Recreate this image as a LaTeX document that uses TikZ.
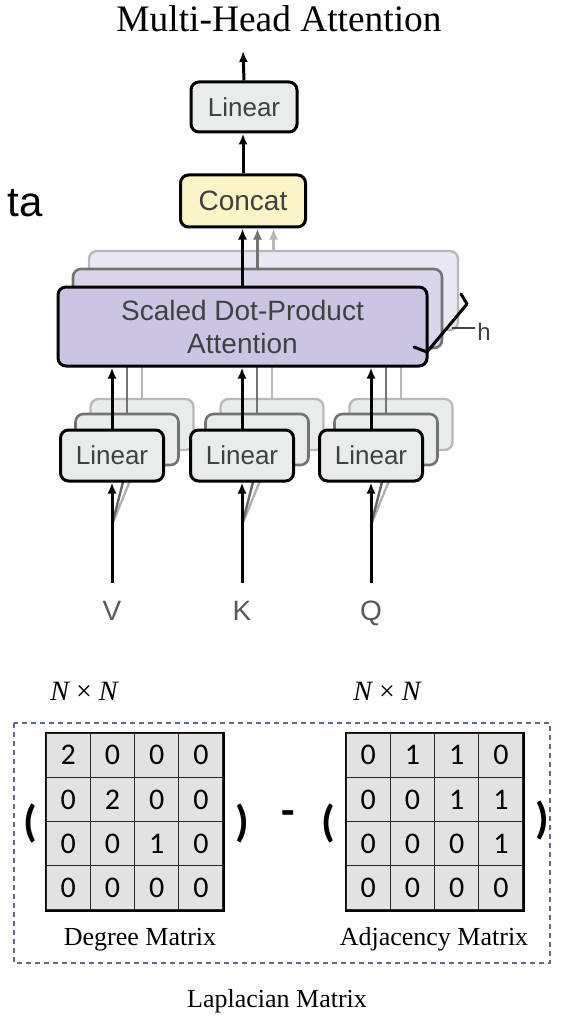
\documentclass[tikz,border=0pt]{standalone}
\usepackage{fontspec}
\setmainfont{Liberation Serif}
\newfontfamily\diagfont{Liberation Sans}
\newfontfamily\cellfont{Carlito}
\usetikzlibrary{arrows.meta, calc}

\definecolor{linfill}{HTML}{E8ECEB}
\definecolor{catfill}{HTML}{FAF4C6}
\definecolor{attfill}{HTML}{CBC5E3}
\definecolor{attfilltwo}{HTML}{DAD5EB}
\definecolor{attfillthree}{HTML}{EAE7F3}
\definecolor{labgray}{HTML}{404040}
\definecolor{dashblue}{HTML}{5B6B8C}
\definecolor{cellfill}{HTML}{E2E2E2}

\begin{document}
\begin{tikzpicture}[x=0.5pt, y=-0.5pt,
    box/.style={draw=black, line width=1.5pt, rounded corners=4pt, inner sep=0pt,
        text=labgray, font={\diagfont\fontsize{13}{15}\selectfont}},
    linbox/.style={box, fill=linfill, minimum width=51.5pt, minimum height=25.5pt},
    topbox/.style={box, fill=linfill, minimum width=53pt, minimum height=25pt},
    catbox/.style={box, fill=catfill, minimum width=62.5pt, minimum height=26pt,
        font={\diagfont\fontsize{14}{16}\selectfont}},
    attbox/.style={box, fill=attfill, minimum width=184.5pt, minimum height=39.5pt,
        align=center, font={\diagfont\fontsize{14}{16.5}\selectfont}},
    ghosttwo/.style={draw=black!55, line width=1.3pt},
    ghostthree/.style={draw=black!28, line width=1.2pt},
    arr/.style={line width=1.5pt, -{Latex[length=5.5pt,width=4.5pt]}},
    ghostline/.style={line width=1.2pt},
    inlabel/.style={font={\diagfont\fontsize{14}{16}\selectfont}, text=black!65, anchor=base},
    cell/.style={draw=black!85, line width=0.6pt, fill=cellfill, minimum size=22.125pt,
        inner sep=0pt, font={\cellfont\fontsize{15}{17}\selectfont}},
    paren/.style={font={\cellfont\bfseries\fontsize{22}{24}\selectfont}},
    sizelabel/.style={font={\itshape\fontsize{14}{16}\selectfont}, anchor=base},
    caption/.style={font={\fontsize{13}{15}\selectfont}, anchor=base}
]
\useasboundingbox (0,0) rectangle (565,1016);

% cropped slide text and title
\node[font={\diagfont\fontsize{21}{24}\selectfont}, anchor=base east, inner sep=0pt] (ta) at (43,217) {ta};
\node[font={\fontsize{18.7}{22}\selectfont}, anchor=base] (title) at (279,32) {Multi-Head Attention};

% stacked attention heads
\node[attbox, fill=attfillthree, ghostthree] (sdpa3) at (273.5,290.5) {};
\node[attbox, fill=attfilltwo, ghosttwo] (sdpa2) at (257.5,308.5) {};

% back copies of the linear layers
\foreach \name/\x in {V/112,K/242,Q/371} {
    \node[linbox, ghostthree] (lin\name3) at ({\x+30},424.5) {};
    \draw[ghostline, black!28] (lin\name3.north) -- (lin\name3.north |- 0,366);
    \node[linbox, ghosttwo] (lin\name2) at ({\x+15},439.5) {};
    \draw[ghostline, black!55] (lin\name2.north) -- (lin\name2.north |- 0,366);
    \coordinate (split\name) at (\x,525);
    \draw[ghostline, black!30] (split\name) -- (lin\name3.south);
    \draw[ghostline, black!60] (split\name) -- (lin\name2.south);
}

\node[attbox] (sdpa) at (242.5,326.5) {Scaled Dot-Product\\Attention};
\node[catbox] (concat) at (243,201) {Concat};
\node[topbox] (lintop) at (244,107) {Linear};
\coordinate (out) at (243,51);

\draw[arr] (lintop.north) -- (out);
\draw[arr] (concat.north) -- (lintop.south -| concat.north);
\draw[arr] (sdpa.north) -- (concat.south -| sdpa.north);
\draw[arr, line width=1.3pt, black!55] (sdpa2.north) -- (sdpa2.north |- concat.south);
\draw[arr, line width=1.2pt, black!28] (sdpa3.north) -- (sdpa3.north |- concat.south);

% h bracket
\draw[line width=1.5pt, line join=round, line cap=round] (461,294) -- (467,304) -- (427,352) -- (414,347);
\node[font={\diagfont\fontsize{12}{14}\selectfont}, text=labgray, anchor=base, inner sep=1pt] (hlabel) at (484,340) {h};
\draw[labgray, line width=0.8pt] (452,328) -- (hlabel.west |- 0,328);

% front linear layers and inputs
\foreach \name/\x in {V/112,K/242,Q/371} {
    \node[linbox] (lin\name) at (\x,455.5) {Linear};
    \node[inlabel] (in\name) at (\x,620) {\name};
    \coordinate (tail\name) at (\x,583);
    \draw[arr] (tail\name) -- (lin\name.south);
    \draw[arr] (lin\name.north) -- (lin\name.north |- sdpa.south);
}

% Laplacian matrix
\draw[dashblue, line width=0.6pt, dash pattern=on 2.5pt off 2pt] (14,723) rectangle (550,963);
\node[sizelabel] (degsize) at (84,700) {N {\upshape\texttimes} N};
\node[sizelabel] (adjsize) at (387,700) {N {\upshape\texttimes} N};

\foreach \row [count=\i from 0] in {{2,0,0,0},{0,2,0,0},{0,0,1,0},{0,0,0,0}} {
    \foreach \v [count=\j from 0] in \row {
        \node[cell] (deg-\i-\j) at ({46+44.25*(\j+0.5)},{733+44.25*(\i+0.5)}) {\v};
    }
}
\foreach \row [count=\i from 0] in {{0,1,1,0},{0,0,1,1},{0,0,0,1},{0,0,0,0}} {
    \foreach \v [count=\j from 0] in \row {
        \node[cell] (adj-\i-\j) at ({346+44.25*(\j+0.5)},{733+44.25*(\i+0.5)}) {\v};
    }
}
\draw[line width=0.9pt] (deg-0-0.north west) rectangle (deg-3-3.south east);
\draw[line width=0.9pt] (adj-0-0.north west) rectangle (adj-3-3.south east);

\node[paren] (degopen) at (30,823) {(};
\node[paren] (degclose) at (242,823) {)};
\node[paren] (minus) at (288,818) {-};
\node[paren] (adjopen) at (328,823) {(};
\node[paren] (adjclose) at (542,820) {)};

\node[caption] (degname) at (140,945) {Degree Matrix};
\node[caption] (adjname) at (434,945) {Adjacency Matrix};
\node[caption] (lapname) at (277,1007) {Laplacian Matrix};
\end{tikzpicture}
\end{document}
